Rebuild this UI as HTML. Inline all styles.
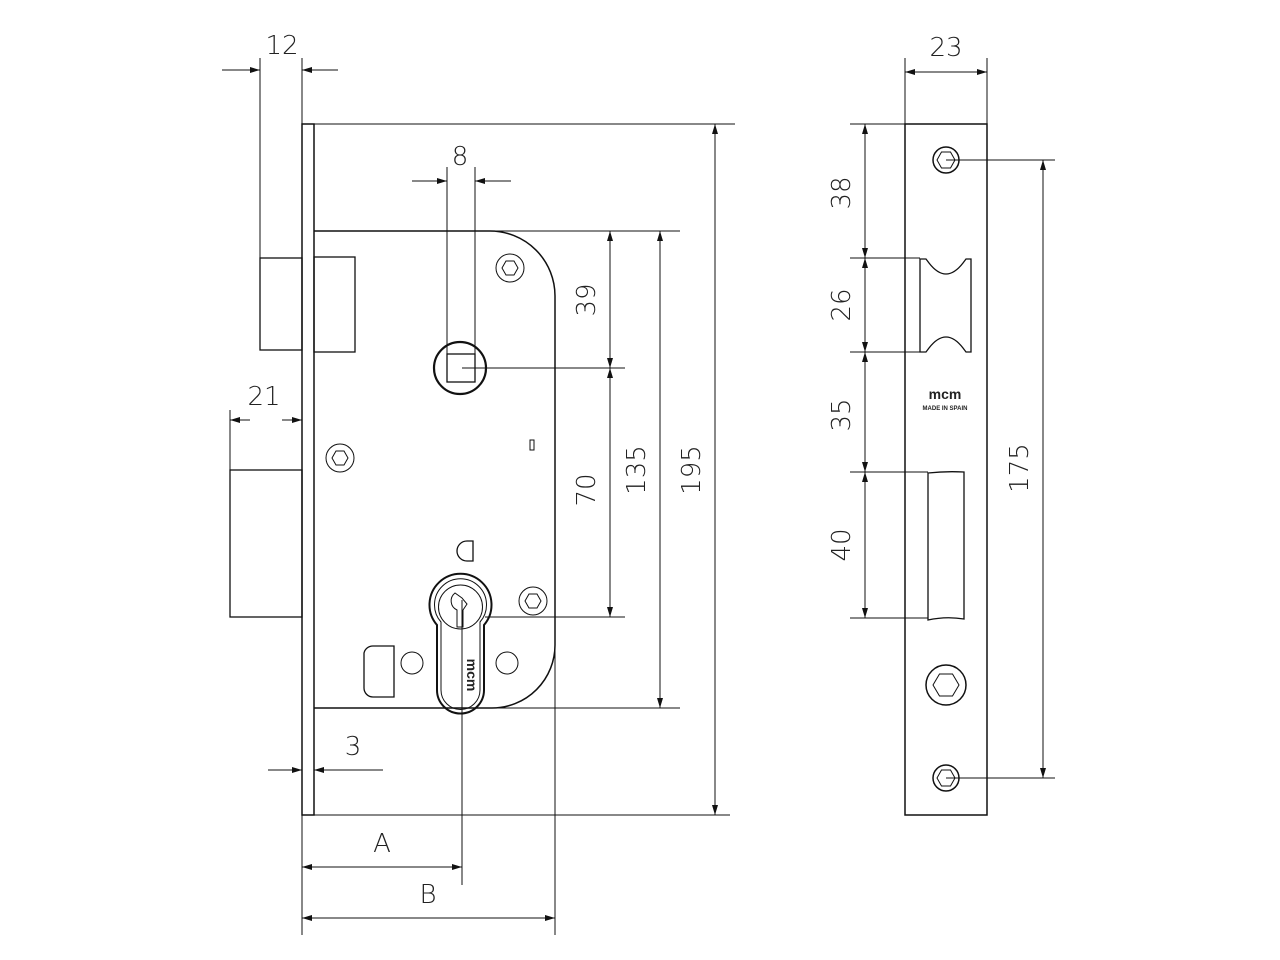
<!DOCTYPE html>
<html><head><meta charset="utf-8"><style>
html,body{margin:0;padding:0;background:#fff;}
svg{display:block;}
text{font-family:"DejaVu Sans","Liberation Sans",sans-serif;fill:#222;font-weight:200;}
</style></head><body>
<svg width="1280" height="960" viewBox="0 0 1280 960" xmlns="http://www.w3.org/2000/svg">
<defs>
<marker id="a" viewBox="0 0 10 6" refX="10" refY="3" markerWidth="10" markerHeight="6" orient="auto-start-reverse" markerUnits="userSpaceOnUse"><path d="M0,0L10,3L0,6z" fill="#111"/></marker>
</defs>
<g stroke="#111" fill="none" stroke-width="1">
<rect x="302" y="124" width="12" height="691" stroke-width="1.5"/>
<line x1="314" y1="124" x2="735" y2="124"/>
<line x1="314" y1="815" x2="730" y2="815"/>
<path d="M314,231 H490 A65,65 0 0 1 555,296 V645 A63,63 0 0 1 492,708 H314" stroke-width="1.5"/>
<rect x="260" y="258" width="42" height="92" stroke-width="1.3"/>
<rect x="314" y="257" width="41" height="95" stroke-width="1.3"/>
<rect x="230" y="470" width="72" height="147" stroke-width="1.3"/>
<line x1="260" y1="58" x2="260" y2="258"/>
<line x1="302" y1="58" x2="302" y2="124"/>
<line x1="230" y1="410" x2="230" y2="470"/>
<line x1="222" y1="70" x2="260" y2="70" marker-end="url(#a)"/>
<line x1="338" y1="70" x2="302" y2="70" marker-end="url(#a)"/>
<line x1="250" y1="420" x2="230" y2="420" marker-end="url(#a)"/>
<line x1="282" y1="420" x2="302" y2="420" marker-end="url(#a)"/>
<line x1="447" y1="167" x2="447" y2="358"/>
<line x1="475" y1="167" x2="475" y2="358"/>
<line x1="412" y1="181" x2="447" y2="181" marker-end="url(#a)"/>
<line x1="511" y1="181" x2="475" y2="181" marker-end="url(#a)"/>
<circle cx="460" cy="368" r="26" stroke-width="2.2"/>
<rect x="447" y="354" width="28" height="28" stroke-width="1.3"/>
<line x1="462" y1="368" x2="625" y2="368"/>
<circle cx="510" cy="268" r="14"/><polygon points="518,268 514,275 506,275 502,268 506,261 514,261"/>
<circle cx="340" cy="458" r="14"/><polygon points="348,458 344,465 336,465 332,458 336,451 344,451"/>
<circle cx="533" cy="601" r="14"/><polygon points="541,601 537,608 529,608 525,601 529,594 537,594"/>
<rect x="530" y="440" width="4" height="10"/>
<path d="M473,541 H467 A10,10 0 0 0 467,561 H473 Z" stroke-width="1.3"/>
<circle cx="412" cy="663" r="11"/>
<circle cx="507" cy="663" r="11"/>
<path d="M364,653 A9,9 0 0 1 373,646 H394 V697 H373 A9,9 0 0 1 364,688 Z" stroke-width="1.3"/>
<path d="M437,625 A31,31 0 1 1 484,625 L484,690 A23,23 0 0 1 437,690 Z" stroke-width="2"/>
<path d="M441,622 A26,26 0 1 1 480,622 L480,690 A19,19 0 0 1 441,690 Z"/>
<circle cx="460.5" cy="607" r="22"/>
<path d="M455,593 A10,10 0 0 0 457,610 V627 H463 V610 L467,604 L462,598 Z"/>
<line x1="462" y1="600" x2="462" y2="885"/>
<line x1="555" y1="650" x2="555" y2="935"/>
<line x1="302" y1="815" x2="302" y2="935"/>
<line x1="490" y1="231" x2="680" y2="231"/>
<line x1="490" y1="708" x2="680" y2="708"/>
<line x1="485" y1="617" x2="625" y2="617"/>
<line x1="610" y1="300" x2="610" y2="231" marker-end="url(#a)"/>
<line x1="610" y1="300" x2="610" y2="368" marker-end="url(#a)"/>
<line x1="610" y1="490" x2="610" y2="368" marker-end="url(#a)"/>
<line x1="610" y1="490" x2="610" y2="617" marker-end="url(#a)"/>
<line x1="660" y1="470" x2="660" y2="231" marker-end="url(#a)"/>
<line x1="660" y1="470" x2="660" y2="708" marker-end="url(#a)"/>
<line x1="715" y1="470" x2="715" y2="124" marker-end="url(#a)"/>
<line x1="715" y1="470" x2="715" y2="815" marker-end="url(#a)"/>
<line x1="268" y1="770" x2="302" y2="770" marker-end="url(#a)"/>
<line x1="383" y1="770" x2="314" y2="770" marker-end="url(#a)"/>
<line x1="380" y1="867" x2="302" y2="867" marker-end="url(#a)"/>
<line x1="380" y1="867" x2="462" y2="867" marker-end="url(#a)"/>
<line x1="430" y1="918" x2="302" y2="918" marker-end="url(#a)"/>
<line x1="430" y1="918" x2="555" y2="918" marker-end="url(#a)"/>

<rect x="905" y="124" width="82" height="691" stroke-width="1.5"/>
<line x1="905" y1="58" x2="905" y2="124"/>
<line x1="987" y1="58" x2="987" y2="124"/>
<line x1="946" y1="72" x2="905" y2="72" marker-end="url(#a)"/>
<line x1="946" y1="72" x2="987" y2="72" marker-end="url(#a)"/>
<circle cx="946" cy="160" r="13" stroke-width="1.5"/><polygon points="955,160 950.5,168 941.5,168 937,160 941.5,152 950.5,152"/>
<circle cx="946" cy="778" r="13" stroke-width="1.5"/><polygon points="955,778 950.5,786 941.5,786 937,778 941.5,770 950.5,770"/>
<circle cx="946" cy="685" r="20" stroke-width="1.5"/><polygon points="959,685 952.5,696 939.5,696 933,685 939.5,674 952.5,674"/>
<path d="M920,259 H926 L929,263 Q946,285 963,263 L966,259 H971 V352 H966 L963,348 Q946,326 929,348 L926,352 H920 Z" stroke-width="1.3"/>
<path d="M928,473 Q946,471 964,472 V619 Q946,616 928,620 Z" stroke-width="1.3"/>
<line x1="850" y1="124" x2="905" y2="124"/>
<line x1="850" y1="258" x2="920" y2="258"/>
<line x1="850" y1="352" x2="920" y2="352"/>
<line x1="850" y1="472" x2="928" y2="472"/>
<line x1="850" y1="618" x2="928" y2="618"/>
<line x1="865" y1="190" x2="865" y2="124" marker-end="url(#a)"/>
<line x1="865" y1="190" x2="865" y2="258" marker-end="url(#a)"/>
<line x1="865" y1="305" x2="865" y2="258" marker-end="url(#a)"/>
<line x1="865" y1="305" x2="865" y2="352" marker-end="url(#a)"/>
<line x1="865" y1="412" x2="865" y2="352" marker-end="url(#a)"/>
<line x1="865" y1="412" x2="865" y2="472" marker-end="url(#a)"/>
<line x1="865" y1="545" x2="865" y2="472" marker-end="url(#a)"/>
<line x1="865" y1="545" x2="865" y2="618" marker-end="url(#a)"/>
<line x1="946" y1="160" x2="1055" y2="160"/>
<line x1="946" y1="778" x2="1055" y2="778"/>
<line x1="1043" y1="470" x2="1043" y2="160" marker-end="url(#a)"/>
<line x1="1043" y1="470" x2="1043" y2="778" marker-end="url(#a)"/>
</g>
<g font-size="26">
<text x="282" y="54" text-anchor="middle">12</text>
<text x="264" y="405" text-anchor="middle">21</text>
<text x="460" y="165" text-anchor="middle">8</text>
<text x="353" y="755" text-anchor="middle">3</text>
<text x="382" y="852" text-anchor="middle">A</text>
<text x="428" y="903" text-anchor="middle">B</text>
<text x="946" y="56" text-anchor="middle">23</text>
<text transform="translate(595,300) rotate(-90)" text-anchor="middle">39</text>
<text transform="translate(595,490) rotate(-90)" text-anchor="middle">70</text>
<text transform="translate(645,470) rotate(-90)" text-anchor="middle">135</text>
<text transform="translate(700,470) rotate(-90)" text-anchor="middle">195</text>
<text transform="translate(850,193) rotate(-90)" text-anchor="middle">38</text>
<text transform="translate(850,305) rotate(-90)" text-anchor="middle">26</text>
<text transform="translate(850,415) rotate(-90)" text-anchor="middle">35</text>
<text transform="translate(850,545) rotate(-90)" text-anchor="middle">40</text>
<text transform="translate(1028,468) rotate(-90)" text-anchor="middle">175</text>
</g>
<text x="945" y="399" text-anchor="middle" font-size="14" style="font-weight:bold;font-family:'Liberation Sans',sans-serif">mcm</text>
<text x="945" y="410" text-anchor="middle" font-size="6" style="font-weight:bold;font-family:'Liberation Sans',sans-serif">MADE IN SPAIN</text>
<text transform="translate(467,675) rotate(90)" text-anchor="middle" font-size="14" style="font-weight:bold;font-family:'Liberation Sans',sans-serif">mcm</text>
</svg>
</body></html>
